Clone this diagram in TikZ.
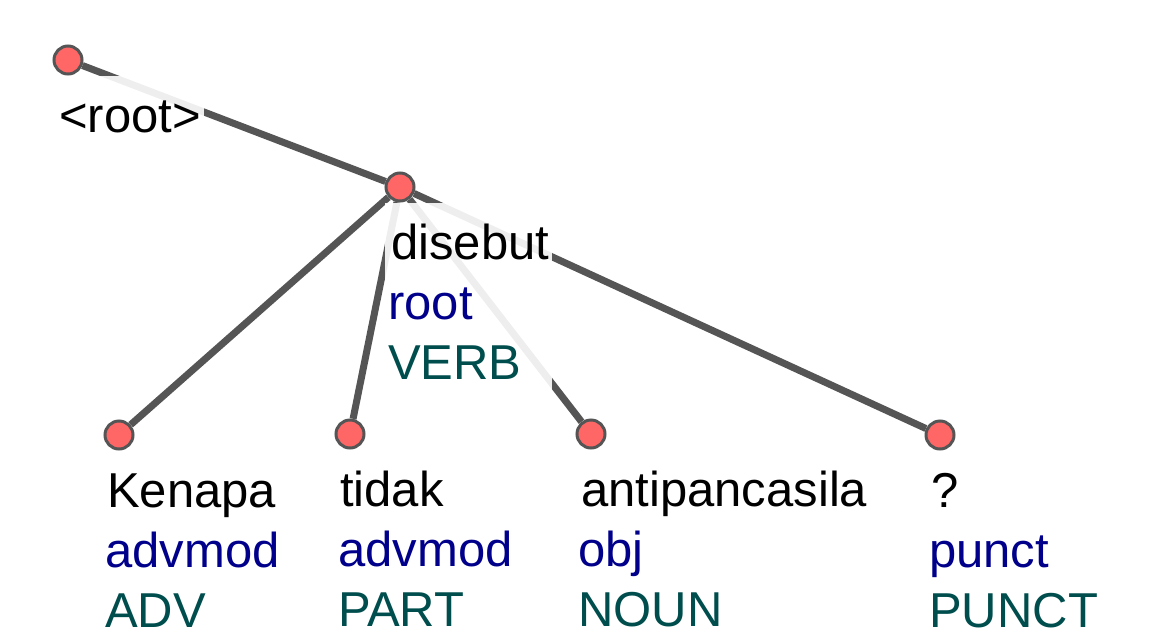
\documentclass[tikz,border=0pt]{standalone}
\usepackage{fontspec}
\setmainfont{Liberation Sans}
\usetikzlibrary{positioning,backgrounds}
\definecolor{edgegray}{HTML}{555555}
\definecolor{nodered}{HTML}{FF6666}
\definecolor{relblue}{HTML}{00008B}
\definecolor{posteal}{HTML}{004D4D}
\begin{document}
\begin{tikzpicture}[
                            x=1pt, y=-1pt,
                            tok/.style={circle, draw=edgegray, fill=nodered, line width=3pt, minimum size=28pt, inner sep=0pt},
                            lbl/.style={anchor=north west, align=left, fill=white, fill opacity=0.9, text opacity=1, inner xsep=3pt, inner ysep=14pt, font=\fontsize{49}{60}\selectfont},
                            edge/.style={draw=edgegray, line width=7pt}
                        ]
                        \useasboundingbox (0,0) rectangle (1157,643);
                        % Blocks
                        \node [tok] (root) at (68,60) {};
                        \node [tok] (disebut) at (400,187) {};
                        \node [tok] (kenapa) at (119,435) {};
                        \node [tok] (tidak) at (350,434) {};
                        \node [tok] (antipancasila) at (591,434) {};
                        \node [tok] (qmark) at (940,435) {};

                        % Labels
                        \node [lbl, below right=16pt and -12pt of root.center] (lroot) {\strut<root>};
                        \node [lbl, below right=16pt and -15pt of disebut.center] (ldisebut) {\strut\kern3pt disebut\\\strut\textcolor{relblue}{root}\\\strut\textcolor{posteal}{VERB}};
                        \node [lbl, below right=16pt and -17pt of kenapa.center] (lkenapa) {\strut\kern2pt Kenapa\\\strut\textcolor{relblue}{advmod}\\\strut\textcolor{posteal}{ADV}};
                        \node [lbl, below right=16pt and -15pt of tidak.center] (ltidak) {\strut\kern2pt tidak\\\strut\textcolor{relblue}{advmod}\\\strut\textcolor{posteal}{PART}};
                        \node [lbl, below right=16pt and -16pt of antipancasila.center] (lantipancasila) {\strut\kern3pt antipancasila\\\strut\textcolor{relblue}{obj}\\\strut\textcolor{posteal}{NOUN}};
                        \node [lbl, below right=16pt and -14pt of qmark.center] (lqmark) {\strut\kern2pt ?\\\strut\textcolor{relblue}{punct}\\\strut\textcolor{posteal}{PUNCT}};

                        % Connections
                        \begin{scope}[on background layer]
                        \draw [edge] (root) -- (disebut);
                        \draw [edge] (disebut) -- (kenapa);
                        \draw [edge] (disebut) -- (tidak);
                        \draw [edge] (disebut) -- (antipancasila);
                        \draw [edge] (disebut) -- (qmark);
                        \end{scope}
                    \end{tikzpicture}
\end{document}
